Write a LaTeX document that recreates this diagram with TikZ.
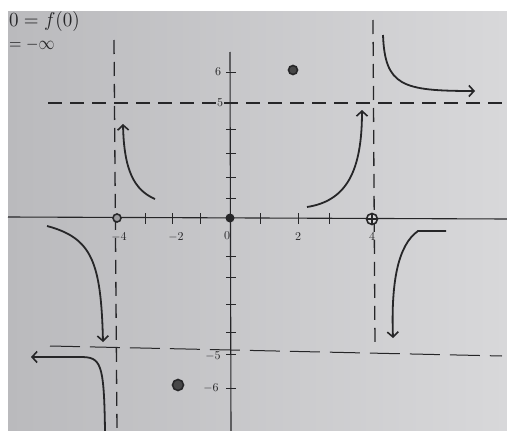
\documentclass[tikz,border=0pt]{standalone}
\usepackage{amsmath}
\usepackage{graphicx}
\usepackage{tikz}
\usetikzlibrary{arrows.meta}

\definecolor{paperL}{RGB}{186,186,189}
\definecolor{paperR}{RGB}{216,216,218}
\definecolor{ink}{RGB}{38,38,40}

\begin{document}
\begin{tikzpicture}[
  x=1pt, y=-1pt,
  axis/.style={draw=ink, line width=1.1pt},
  asym/.style={draw=ink, line width=1.3pt, dash pattern=on 14pt off 8pt},
  curve/.style={draw=ink, line width=1.8pt, -{Straight Barb[length=5pt,width=11pt,line width=1.6pt]}},
  tk/.style={draw=ink, line width=1pt},
  lbl/.style={text=ink, inner sep=0pt},
  note/.style={anchor=west, inner sep=0pt, text=ink},
  pt/.style={draw=ink, line width=1.6pt}
]
  % paper
  \fill[white] (0,0) rectangle (507,431);
  \shade[left color=paperL, right color=paperR] (8,11) rectangle (507,431);
  \useasboundingbox (0,0) rectangle (507,431);

  % note in the corner
  \node[note] (fzero) at (9,22) {\scalebox{1.9}[2.0]{$0 = f(0)$}};
  \node[note] (minf) at (9,45) {\scalebox{1.6}[1.9]{$= -\infty$}};

  % axes
  \draw[axis] (8,217) -- (507,219);
  \draw[axis] (230,52) -- (231,431);

  % asymptotes
  \draw[asym] (114,40) -- (117,431);
  \draw[asym] (373,20) -- (375,346);
  \draw[asym] (48,103) -- (502,103);
  \draw[asym, line width=1pt, dash pattern=on 30pt off 10pt] (50,346) -- (502,356);

  % ticks on the x axis
  \foreach \xx in {145,172,200,260,298,329}
    \draw[tk] (\xx,213) -- (\xx,224);
  % ticks on the y axis
  \foreach \yy in {72,103,129,153,177,198,256,277,304,332,354,388}
    \draw[tk] (226,\yy) -- (236,\yy);

  % tick labels
  \node[lbl] (xm4) at (119,237) {\scalebox{1.2}{$-4$}};
  \node[lbl] (xm2) at (176,237) {\scalebox{1.2}{$-2$}};
  \node[lbl] (x0)  at (227,236) {\scalebox{1.2}{$0$}};
  \node[lbl] (x2)  at (298,237) {\scalebox{1.2}{$2$}};
  \node[lbl] (x4)  at (372,237) {\scalebox{1.2}{$4$}};
  \node[lbl] (y6)  at (218,72)  {\scalebox{1.2}{$6$}};
  \node[lbl] (y5)  at (220,103) {\scalebox{1.2}{$5$}};
  \node[lbl] (ym5) at (213,356) {\scalebox{1.2}{$-5$}};
  \node[lbl] (ym6) at (211,388) {\scalebox{1.2}{$-6$}};

  % points
  \fill[ink] (230,218) circle (4.5pt);
  \draw[pt, fill=paperL!80!ink] (117,218) circle (4pt);
  \draw[pt, fill=paperR] (372,219) circle (5.5pt);
  \draw[pt] (372,213.5) -- (372,224.5) (366.5,219) -- (377.5,219);
  \draw[pt, fill=ink!85] (293,70) circle (4.5pt);
  \draw[pt, fill=ink!85] (178,385) circle (5.5pt);

  % branches
  \draw[curve] (155,199) .. controls (134,190) and (124,170) .. (123,124);
  \draw[curve] (307,207) .. controls (346,201) and (362,172) .. (362,110);
  \draw[curve] (383,35) .. controls (385,86) and (402,91) .. (475,91);
  \draw[curve] (446,231) -- (418,231) .. controls (398,245) and (391,282) .. (393,338);
  \draw[curve] (47,226) .. controls (92,238) and (101,262) .. (103,342);
  \draw[curve] (105,431) .. controls (104,362) and (101,357) .. (80,357) -- (31,357);
\end{tikzpicture}
\end{document}
